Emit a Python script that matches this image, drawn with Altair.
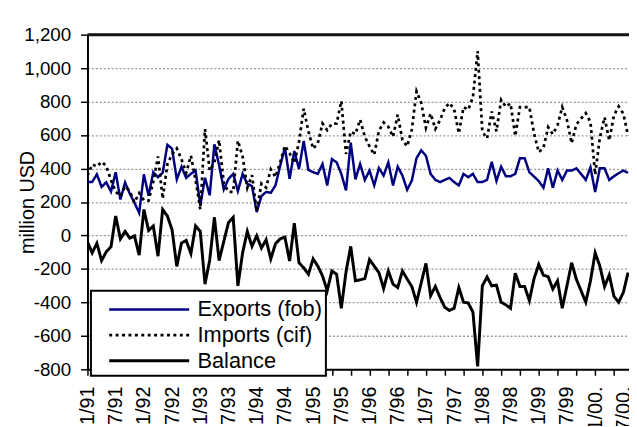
import altair as alt
import pandas as pd

FONT = "Liberation Sans"

series_names = ["Exports (fob)", "Imports (cif)", "Balance"]
series_colors = ["#000080", "#000000", "#000000"]

# monthly values, million USD, Jan 1991 onwards
exports = [320, 320, 365, 290, 318, 262, 378, 215, 316, 250, 195, 135,
           365, 238, 378, 348, 375, 542, 518, 335, 410, 344, 368, 388,
           180, 345, 240, 545, 420, 275, 338, 368, 265, 368, 309, 295,
           140, 235, 260, 255, 300, 417, 525, 338, 505, 397, 565, 391,
           378, 368, 427, 299, 456, 437, 368, 269, 555, 335, 427, 332,
           388, 299, 403, 358, 437, 299, 411, 358, 273, 328, 462, 509,
           476, 368, 332, 319, 332, 344, 319, 299, 368, 348, 368, 319,
           319, 332, 440, 325, 411, 354, 354, 368, 462, 462, 378, 352,
           325, 285, 401, 285, 388, 332, 388, 388, 401, 368, 332, 407,
           260, 401, 401, 332, 354, 372, 388, 374]

imports = [358, 424, 412, 440, 415, 330, 262, 235, 292, 266, 198, 253,
           210, 208, 321, 472, 220, 426, 485, 520, 455, 374, 476, 331,
           156, 636, 388, 437, 570, 310, 261, 260, 566, 472, 285, 360,
           142, 310, 286, 395, 349, 437, 535, 491, 432, 560, 758, 623,
           518, 551, 669, 629, 668, 669, 803, 487, 620, 606, 692, 590,
           532, 482, 625, 675, 649, 590, 722, 570, 533, 633, 861, 792,
           643, 728, 637, 689, 761, 792, 754, 610, 767, 751, 826, 1102,
           620, 580, 741, 622, 810, 769, 789, 594, 767, 767, 767, 610,
           498, 523, 647, 605, 659, 767, 689, 551, 663, 698, 731, 678,
           364, 584, 706, 568, 718, 771, 728, 596]

balance = [-38, -104, -47, -150, -97, -68, 116, -20, 24, -16, -3, -118,
           155, 30, 57, -124, 155, 116, 33, -185, -45, -30, -108, 57,
           24, -291, -148, 108, -150, -35, 77, 108, -301, -104, 24, -65,
           -2, -75, -26, -140, -49, -20, -10, -153, 73, -163, -193, -232,
           -140, -183, -242, -330, -212, -232, -435, -218, -65, -271, -265, -258,
           -144, -183, -222, -317, -212, -291, -311, -212, -260, -305, -399, -283,
           -167, -360, -305, -370, -429, -448, -435, -311, -399, -403, -458, -783,
           -301, -248, -301, -297, -399, -415, -435, -226, -305, -305, -389, -258,
           -173, -238, -246, -320, -271, -435, -301, -163, -262, -330, -399, -271,
           -104, -183, -305, -236, -364, -399, -340, -222]

tick_labels = ["1/91", "7/91", "1/92", "7/92", "1/93", "7/93", "1/94", "7/94",
               "1/95", "7/95", "1/96", "7/96", "1/97", "7/97", "1/98", "7/98",
               "1/99", "7/99", "1/00.", "7/00."]
y_ticks = [-800, -600, -400, -200, 0, 200, 400, 600, 800, 1000, 1200]
y_tick_labels = ["-800", "-600", "-400", "-200", "0", "200", "400", "600",
                 "800", "1,000", "1,200"]

rows = []
for name, vals in zip(series_names, [exports, imports, balance]):
    for i, v in enumerate(vals):
        rows.append({"month": i, "series": name, "value": v})
df = pd.DataFrame(rows)

n_months = len(exports)


def js_list(items):
    return "[" + ",".join("'" + t + "'" for t in items) + "]"


x_label_expr = "datum.value % 6 == 0 ? " + js_list(tick_labels) + "[datum.value / 6] : ''"
y_label_expr = js_list(y_tick_labels) + "[round((datum.value - (%d)) / 200)]" % y_ticks[0]
x_values = [i for i in range(0, n_months) if i % 4 == 0 or i % 6 == 0]

x_scale = alt.Scale(domain=[0, 115.2], nice=False, zero=False, padding=0)
y_scale = alt.Scale(domain=[y_ticks[0], y_ticks[-1]], nice=False, zero=False)

x_axis = alt.Axis(
    values=x_values, labelExpr=x_label_expr, labelAngle=270,
    labelFont=FONT, labelFontSize=20, labelColor="black", labelPadding=11,
    labelOverlap=False, labelBound=False, labelFlush=False,
    tickSize=6, tickWidth=1.5, tickColor="black",
    tickOpacity={"condition": {"test": "datum.value % 4 != 0", "value": 0}, "value": 1},
    domainColor="black", domainWidth=2, grid=False, title=None,
)
y_axis = alt.Axis(
    values=y_ticks, labelExpr=y_label_expr, labelFont=FONT, labelFontSize=19,
    labelColor="black", labelPadding=10, labelOverlap=False,
    labelBound=False, labelFlush=False,
    tickSize=7, tickWidth=1.5, tickColor="black",
    domainColor="black", domainWidth=2,
    grid=True, gridColor="#999999", gridDash=[2, 2], gridWidth=1.3,
    title="million USD", titleFont=FONT, titleFontSize=20,
    titleFontWeight="normal", titleColor="black",
    titleAngle=270, titleAlign="center", titleBaseline="alphabetic",
    titleX=-55, titleY=169.5,
)

legend = alt.Legend(
    title=None, orient="none", legendX=3.5, legendY=259.4,
    symbolType="M-3,0H3", symbolSize=729, symbolOffset=40,
    labelOffset=34, labelFont=FONT, labelFontSize=22, labelColor="black",
    labelLimit=0, rowPadding=0, padding=4,
    strokeColor="black", fillColor="white",
)

lines = alt.Chart(df).mark_line(clip=True).encode(
    x=alt.X("month:Q", scale=x_scale, axis=x_axis),
    y=alt.Y("value:Q", scale=y_scale, axis=y_axis),
    color=alt.Color("series:N", scale=alt.Scale(domain=series_names, range=series_colors),
                    legend=legend, sort=series_names),
    strokeDash=alt.StrokeDash("series:N",
                              scale=alt.Scale(domain=series_names, range=[[1, 0], [3, 3.5], [1, 0]]),
                              legend=legend, sort=series_names),
    strokeWidth=alt.StrokeWidth("series:N",
                                scale=alt.Scale(domain=series_names, range=[2.5, 3, 2]),
                                legend=legend, sort=series_names),
    order="month:Q",
)

top_border = alt.Chart(pd.DataFrame({"value": [y_ticks[-1]]})).mark_rule(
    color="#111111", strokeWidth=3
).encode(y=alt.Y("value:Q", scale=y_scale, axis=y_axis))

chart = alt.layer(lines, top_border).properties(
    width=548.5, height=339,
    padding={"left": 80.5, "top": 24.3, "right": 0, "bottom": 55},
    autosize=alt.AutoSizeParams(type="none"),
).configure_view(stroke=None).configure_legend(strokeWidth=2)

chart.save("out.html", embed_options={"renderer": "svg", "actions": False})
